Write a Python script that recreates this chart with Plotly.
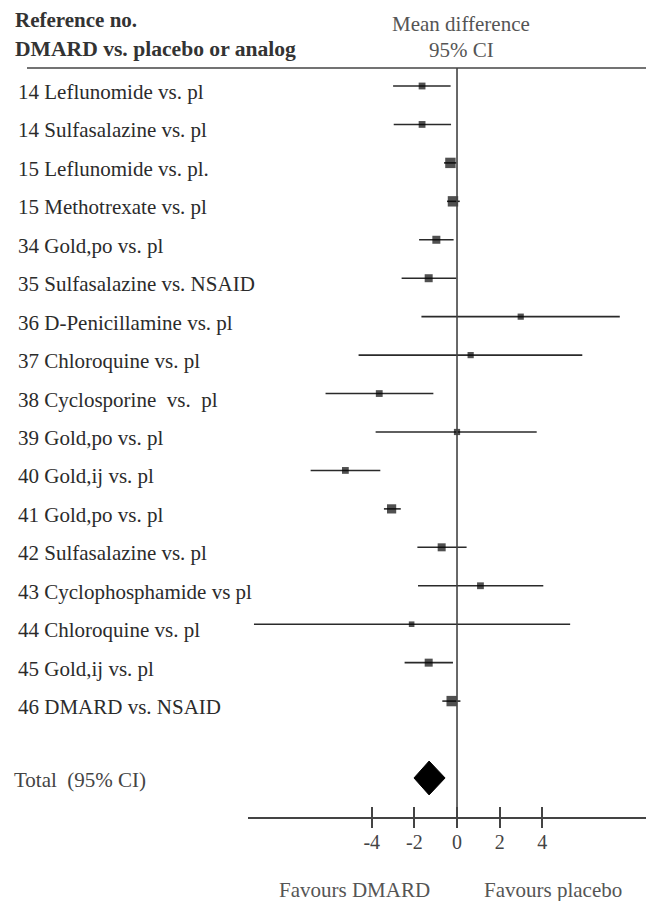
import plotly.graph_objects as go

# ---- data ----
study_labels = [
    "14 Leflunomide vs. pl",
    "14 Sulfasalazine vs. pl",
    "15 Leflunomide vs. pl.",
    "15 Methotrexate vs. pl",
    "34 Gold,po vs. pl",
    "35 Sulfasalazine vs. NSAID",
    "36 D-Penicillamine vs. pl",
    "37 Chloroquine vs. pl",
    "38 Cyclosporine\u00a0 vs.\u00a0 pl",
    "39 Gold,po vs. pl",
    "40 Gold,ij vs. pl",
    "41 Gold,po vs. pl",
    "42 Sulfasalazine vs. pl",
    "43 Cyclophosphamide vs pl",
    "44 Chloroquine vs. pl",
    "45 Gold,ij vs. pl",
    "46 DMARD vs. NSAID",
]
mean_diff = [-1.64, -1.64, -0.31, -0.19, -0.97, -1.33, 2.99, 0.64, -3.65, 0.0,
             -5.24, -3.07, -0.72, 1.10, -2.13, -1.33, -0.25]
ci_low = [-3.00, -2.97, -0.61, -0.47, -1.78, -2.60, -1.67, -4.62, -6.17, -3.82,
          -6.87, -3.43, -1.86, -1.83, -9.53, -2.46, -0.69]
ci_high = [-0.30, -0.28, -0.03, 0.13, -0.16, -0.03, 7.64, 5.88, -1.11, 3.74,
           -3.60, -2.64, 0.45, 4.05, 5.31, -0.19, 0.16]
weights = [3, 3, 9, 9, 5, 5, 2, 2, 3, 2, 3, 7, 5, 3, 1, 5, 9]

total_label = "Total\u00a0 (95% CI)"
total_mean = -1.31
total_low = -2.02
total_high = -0.56

tick_values = [-4, -2, 0, 2, 4]
tick_labels = ["-4", "-2", "0", "2", "4"]

# ---- layout helpers ----
W, H = 646, 901
FONT = "Liberation Serif"
rows = list(range(1, len(study_labels) + 1))
total_row = len(study_labels) + 2
axis_paper_y = 1 - 818 / H
top_line_paper_y = 1 - 68 / H

fig = go.Figure()

# CI lines
fig.add_trace(go.Scatter(
    x=mean_diff, y=rows, mode="markers",
    marker=dict(symbol="square", color="rgba(0,0,0,0)", size=1),
    error_x=dict(type="data", symmetric=False,
                 array=[h - m for h, m in zip(ci_high, mean_diff)],
                 arrayminus=[m - l for m, l in zip(mean_diff, ci_low)],
                 color="#2a2a2a", thickness=1.6, width=0),
    showlegend=False, hoverinfo="skip"))
# squares on top
fig.add_trace(go.Scatter(
    x=mean_diff, y=rows, mode="markers",
    marker=dict(symbol="square", color="#050505",
                size=[5 + 0.6 * w for w in weights], line=dict(width=0)),
    showlegend=False, hoverinfo="skip"))

# Total diamond
dh = 0.44
fig.add_trace(go.Scatter(
    x=[total_low, total_mean, total_high, total_mean, total_low],
    y=[total_row, total_row - dh, total_row, total_row + dh, total_row],
    mode="lines", fill="toself", fillcolor="#000000",
    line=dict(color="#000000", width=1), showlegend=False, hoverinfo="skip"))

# second axis for ticks crossing below axis line
fig.add_trace(go.Scatter(x=[0], y=[0], xaxis="x2", mode="markers",
                         marker=dict(opacity=0), showlegend=False, hoverinfo="skip"))

annotations = []
for r, lab in zip(rows, study_labels):
    annotations.append(dict(x=16 / W, y=r, xref="paper", yref="y", text=lab,
                            showarrow=False, xanchor="left", yanchor="middle",
                            yshift=-6, font=dict(family=FONT, size=21, color="#2b2b2b")))
annotations.append(dict(x=12 / W, y=total_row, xref="paper", yref="y", text=total_label,
                        showarrow=False, xanchor="left", yanchor="middle", yshift=-2,
                        font=dict(family=FONT, size=21, color="#444444")))
# header
annotations += [
    dict(x=13 / W, y=1 - 20 / H, xref="paper", yref="paper", text="<b>Reference no.</b>",
         showarrow=False, xanchor="left", yanchor="middle",
         font=dict(family=FONT, size=21, color="#333333")),
    dict(x=13 / W, y=1 - 49 / H, xref="paper", yref="paper",
         text="<b>DMARD vs. placebo or analog</b>",
         showarrow=False, xanchor="left", yanchor="middle",
         font=dict(family=FONT, size=21.6, color="#333333")),
    dict(x=461 / W, y=1 - 24 / H, xref="paper", yref="paper", text="Mean difference",
         showarrow=False, xanchor="center", yanchor="middle",
         font=dict(family=FONT, size=21, color="#555555")),
    dict(x=461 / W, y=1 - 50 / H, xref="paper", yref="paper", text="95% CI",
         showarrow=False, xanchor="center", yanchor="middle",
         font=dict(family=FONT, size=21, color="#555555")),
    dict(x=354 / W, y=1 - 890 / H, xref="paper", yref="paper", text="Favours DMARD",
         showarrow=False, xanchor="center", yanchor="middle",
         font=dict(family=FONT, size=21, color="#555555")),
    dict(x=553 / W, y=1 - 890 / H, xref="paper", yref="paper", text="Favours placebo",
         showarrow=False, xanchor="center", yanchor="middle",
         font=dict(family=FONT, size=21, color="#555555")),
]

shapes = [
    # top rule
    dict(type="line", xref="paper", yref="paper", x0=27 / W, x1=1,
         y0=top_line_paper_y, y1=top_line_paper_y, line=dict(color="#444444", width=1.6)),
    # line of no effect
    dict(type="line", xref="x", yref="paper", x0=0, x1=0,
         y0=axis_paper_y, y1=top_line_paper_y, line=dict(color="#444444", width=1.6)),
]

x_range = [-9.81, 8.87]
x_domain = [248 / W, 1]

fig.update_layout(
    width=W, height=H,
    margin=dict(l=0, r=0, t=0, b=0),
    paper_bgcolor="white", plot_bgcolor="white",
    showlegend=False,
    annotations=annotations,
    shapes=shapes,
    xaxis=dict(domain=x_domain, range=x_range, anchor="free", position=axis_paper_y,
               showgrid=False, zeroline=False, showline=True, linecolor="#444444",
               linewidth=1.6, ticks="inside", ticklen=10, tickwidth=1.6,
               tickcolor="#444444", tickvals=tick_values, ticktext=tick_labels,
               tickfont=dict(family=FONT, size=20, color="#444444"),
               ticklabelstandoff=6, automargin=False, fixedrange=True),
    xaxis2=dict(domain=x_domain, range=x_range, overlaying="x", anchor="free",
                position=axis_paper_y, showgrid=False, zeroline=False, showline=False,
                ticks="outside", ticklen=9, tickwidth=1.6, tickcolor="#444444",
                tickvals=tick_values, showticklabels=False, side="bottom",
                automargin=False),
    yaxis=dict(domain=[0, 1], range=[22.2, -1.237], visible=False, automargin=False),
)

fig.write_html("out.html")
